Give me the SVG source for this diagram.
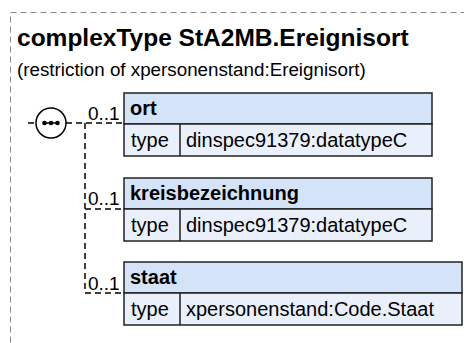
<svg xmlns="http://www.w3.org/2000/svg" width="464" height="343" viewBox="0 0 464 343">
<style>
.frame{fill:none;stroke:#8a8a8a;stroke-width:1;stroke-dasharray:6,4}
.title{font-family:"Liberation Sans",Arial,sans-serif;font-weight:bold;font-size:24.5px;fill:#000}
.sub{font-family:"Liberation Sans",Arial,sans-serif;font-size:18.8px;fill:#000}
.hdr{fill:#d5e3f8;stroke:#222;stroke-width:1.5}
.row{fill:#e9f0fc;stroke:#222;stroke-width:1.5}
.name{font-family:"Liberation Sans",Arial,sans-serif;font-weight:bold;font-size:20px;fill:#000}
.txt{font-family:"Liberation Sans",Arial,sans-serif;font-size:20px;fill:#000}
.card{font-family:"Liberation Sans",Arial,sans-serif;font-size:19px;fill:#000}
.conn{fill:none;stroke:#000;stroke-width:1.5;stroke-dasharray:6,4}
</style>
<rect class="frame" x="10.5" y="12.5" width="470" height="350"/>
<text class="title" x="17" y="46">complexType StA2MB.Ereignisort</text>
<text class="sub" x="17" y="76">(restriction of xpersonenstand:Ereignisort)</text>
<g id="connectors">
<line class="conn" x1="28" y1="123" x2="36" y2="123"/>
<path class="conn" d="M66 123 H124"/>
<path class="conn" d="M85 123 V293 H124"/>
<path class="conn" d="M85 209 H124"/>
</g>
<g id="sequence">
<circle cx="51" cy="123" r="15" fill="#fff" stroke="#000" stroke-width="1.5"/>
<line x1="44" y1="123" x2="58" y2="123" stroke="#000" stroke-width="1.5"/>
<circle cx="44.5" cy="123" r="2.3" fill="#000"/>
<circle cx="51" cy="123" r="2.3" fill="#000"/>
<circle cx="57.5" cy="123" r="2.3" fill="#000"/>
</g>
<g id="ort">
<text class="card" x="88" y="120">0..1</text>
<rect class="hdr" x="124" y="93" width="308" height="31"/>
<rect class="row" x="124" y="124" width="308" height="32"/>
<line x1="180" y1="124" x2="180" y2="156" stroke="#222" stroke-width="1.5"/>
<text class="name" x="130" y="115">ort</text>
<text class="txt" x="131" y="147">type</text>
<text class="txt" x="186" y="147">dinspec91379:datatypeC</text>
</g>
<g id="kreisbezeichnung">
<text class="card" x="88" y="205">0..1</text>
<rect class="hdr" x="124" y="178" width="308" height="31"/>
<rect class="row" x="124" y="209" width="308" height="32"/>
<line x1="180" y1="209" x2="180" y2="241" stroke="#222" stroke-width="1.5"/>
<text class="name" x="130" y="200">kreisbezeichnung</text>
<text class="txt" x="131" y="232">type</text>
<text class="txt" x="186" y="232">dinspec91379:datatypeC</text>
</g>
<g id="staat">
<text class="card" x="88" y="290">0..1</text>
<rect class="hdr" x="124" y="262" width="338" height="31"/>
<rect class="row" x="124" y="293" width="338" height="32"/>
<line x1="180" y1="293" x2="180" y2="325" stroke="#222" stroke-width="1.5"/>
<text class="name" x="130" y="284">staat</text>
<text class="txt" x="131" y="316">type</text>
<text class="txt" x="186" y="316">xpersonenstand:Code.Staat</text>
</g>
</svg>
